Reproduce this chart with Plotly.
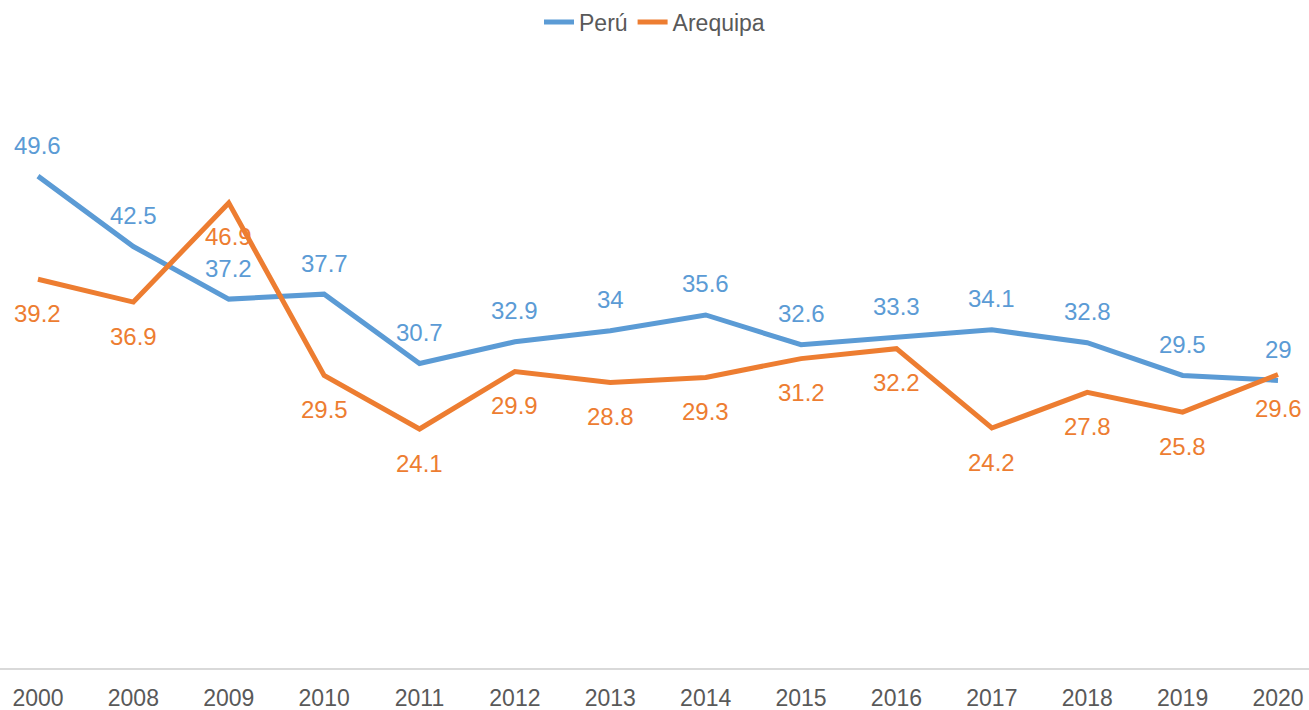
import plotly.graph_objects as go

years = ["2000", "2008", "2009", "2010", "2011", "2012", "2013",
         "2014", "2015", "2016", "2017", "2018", "2019", "2020"]
peru = [49.6, 42.5, 37.2, 37.7, 30.7, 32.9, 34, 35.6, 32.6, 33.3, 34.1, 32.8, 29.5, 29]
arequipa = [39.2, 36.9, 46.9, 29.5, 24.1, 29.9, 28.8, 29.3, 31.2, 32.2, 24.2, 27.8, 25.8, 29.6]

BLUE = "#5B9BD5"
ORANGE = "#ED7D31"
GREY = "#595959"
FONT = "Liberation Sans, Arial, sans-serif"
LABEL_SIZE = 24
TICK_SIZE = 23

fig = go.Figure()
fig.add_trace(go.Scatter(x=years, y=peru, name="Perú", mode="lines",
                         line=dict(color=BLUE, width=5)))
fig.add_trace(go.Scatter(x=years, y=arequipa, name="Arequipa", mode="lines",
                         line=dict(color=ORANGE, width=5)))

# value labels: Perú above its line, Arequipa below
# (x given as category index so numeric-looking year names stay categories)
annotations = []
for i, v in enumerate(peru):
    annotations.append(dict(x=i, y=v, xref="x", yref="y", text=f"{v:g}",
                            showarrow=False, yshift=31,
                            font=dict(family=FONT, size=LABEL_SIZE, color=BLUE)))
for i, v in enumerate(arequipa):
    annotations.append(dict(x=i, y=v, xref="x", yref="y", text=f"{v:g}",
                            showarrow=False, yshift=-34,
                            font=dict(family=FONT, size=LABEL_SIZE, color=ORANGE)))

fig.update_layout(
    width=1309, height=710,
    margin=dict(l=0, r=0, t=73, b=42),
    paper_bgcolor="white", plot_bgcolor="white",
    font=dict(family=FONT, size=TICK_SIZE, color=GREY),
    showlegend=True,
    legend=dict(orientation="h", x=0.5, xanchor="center",
                yref="container", y=0.969, yanchor="middle",
                font=dict(family=FONT, size=TICK_SIZE, color=GREY),
                itemwidth=30),
    annotations=annotations,
    xaxis=dict(type="category", range=[-0.398, 13.325],
               showgrid=False, zeroline=False,
               showline=True, linecolor="#D9D9D9", linewidth=2,
               ticks="", ticklabelstandoff=8,
               tickfont=dict(family=FONT, size=TICK_SIZE, color=GREY)),
    yaxis=dict(range=[0, 60], showticklabels=False, showline=False,
               showgrid=False, zeroline=False, ticks=""),
)

fig.write_html("out.html")
